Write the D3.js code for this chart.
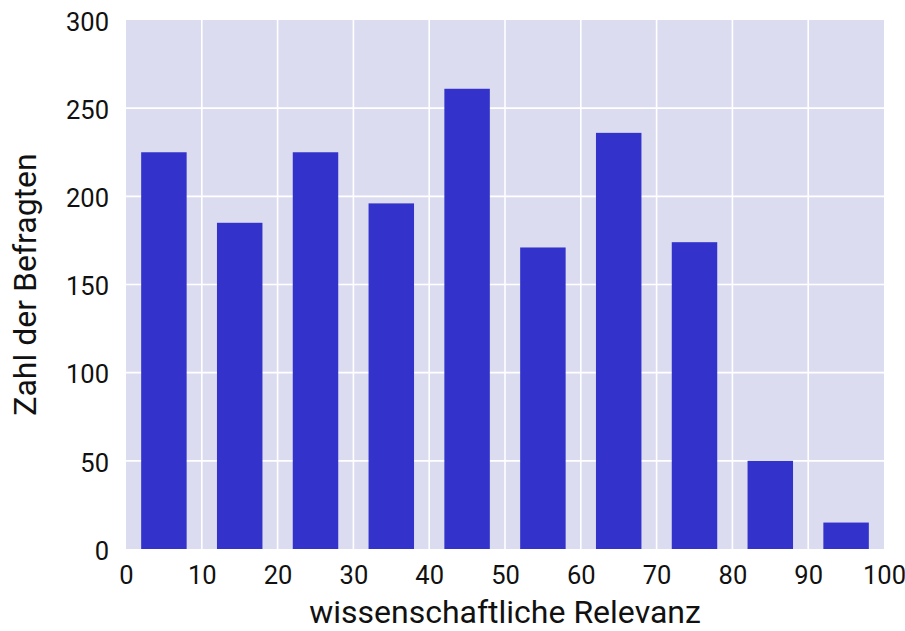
<!DOCTYPE html>
<html lang="de">
<head>
  <meta charset="UTF-8">
  <title>wissenschaftliche Relevanz</title>
  <style>
    * { margin: 0; box-sizing: border-box; }
    body { background: #fff; font-family: Roboto, sans-serif; }
    .tick text { font-family: Roboto, sans-serif; font-size: 25.5px; fill: #111; }
    .label { font-family: Roboto, sans-serif; font-size: 32px; fill: #111; }
  </style>
</head>
<body>
  <svg></svg>
  <script src="https://d3js.org/d3.v7.min.js"></script>
  <script>
    // bin starts (wissenschaftliche Relevanz) and counts
    const binStarts = [0, 10, 20, 30, 40, 50, 60, 70, 80, 90];
    const counts = [225, 185, 225, 196, 261, 171, 236, 174, 50, 15];
    const xTicks = [0, 10, 20, 30, 40, 50, 60, 70, 80, 90, 100];
    const yTicks = [0, 50, 100, 150, 200, 250, 300];

    const width = 905;
    const height = 631;
    const margin = {top: 20, right: 21, bottom: 82, left: 126};

    const svg = d3.select('svg')
      .attr('width', width)
      .attr('height', height);

    const xScale = d3.scaleLinear().domain([0, 100]).range([margin.left, width - margin.right]);
    const yScale = d3.scaleLinear().domain([0, 300]).range([height - margin.bottom, margin.top]);

    svg.append('rect')
      .attr('x', margin.left)
      .attr('y', margin.top)
      .attr('width', xScale(100) - xScale(0))
      .attr('height', yScale(0) - yScale(300))
      .attr('fill', '#dcdcf0');

    // grid
    const grid = svg.append('g');
    grid.selectAll('.gx').data(xTicks.slice(1, -1)).enter()
      .append('line')
      .attr('x1', d => xScale(d)).attr('x2', d => xScale(d))
      .attr('y1', yScale(0)).attr('y2', yScale(300))
      .attr('stroke', '#fff').attr('stroke-width', 1.6);
    grid.selectAll('.gy').data(yTicks.slice(1, -1)).enter()
      .append('line')
      .attr('y1', d => yScale(d)).attr('y2', d => yScale(d))
      .attr('x1', xScale(0)).attr('x2', xScale(100))
      .attr('stroke', '#fff').attr('stroke-width', 1.6);

    // bars: 6 wide, centred in each 10-wide bin
    svg.selectAll('.bar').data(binStarts).enter()
      .append('rect')
      .attr('class', 'bar')
      .attr('x', d => xScale(d + 2))
      .attr('width', d => xScale(d + 8) - xScale(d + 2))
      .attr('y', (d, i) => yScale(counts[i]))
      .attr('height', (d, i) => yScale(0) - yScale(counts[i]))
      .attr('fill', '#3333cc');

    const xAxis = svg.append('g')
      .attr('transform', 'translate(0,' + yScale(0) + ')')
      .call(d3.axisBottom(xScale).tickValues(xTicks).tickSize(0).tickPadding(17));
    xAxis.select('.domain').remove();

    const yAxis = svg.append('g')
      .attr('transform', 'translate(' + margin.left + ',0)')
      .call(d3.axisLeft(yScale).tickValues(yTicks).tickSize(0).tickPadding(17));
    yAxis.select('.domain').remove();
    yAxis.selectAll('.tick text').attr('dy', '0.4em');

    svg.append('text')
      .attr('class', 'label')
      .attr('x', (xScale(0) + xScale(100)) / 2)
      .attr('y', 623)
      .attr('text-anchor', 'middle')
      .text('wissenschaftliche Relevanz');

    svg.append('text')
      .attr('class', 'label')
      .attr('transform', 'translate(35.5,' + ((yScale(0) + yScale(300)) / 2) + ') rotate(-90)')
      .attr('text-anchor', 'middle')
      .text('Zahl der Befragten');
  </script>
</body>
</html>
